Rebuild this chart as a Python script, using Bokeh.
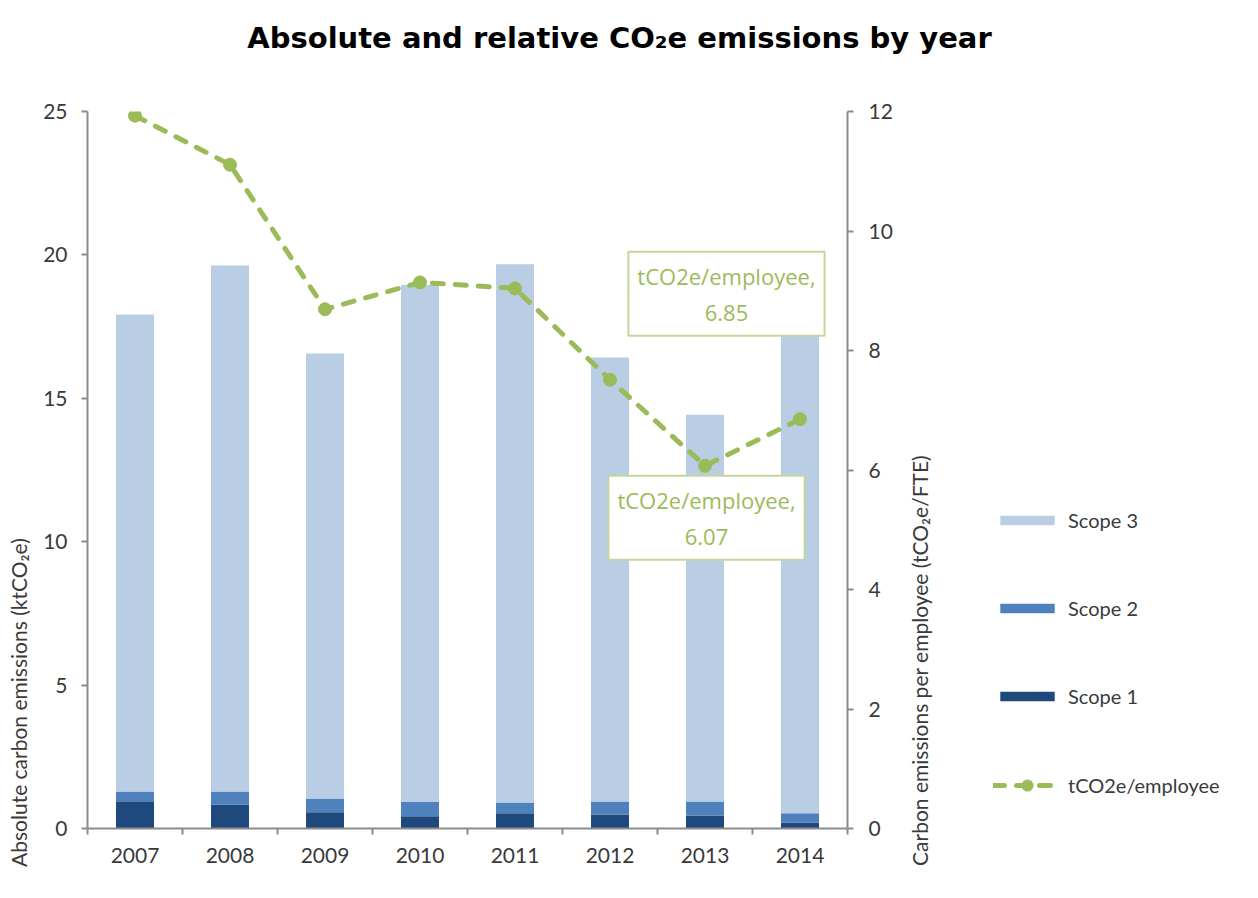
import math
from bokeh.plotting import figure
from bokeh.layouts import column, row
from bokeh.models import (ColumnDataSource, Range1d, LinearAxis, FixedTicker,
                          Legend, LegendItem, Label)
from bokeh.embed import file_html
from bokeh.resources import INLINE

# Emissions by year (ktCO2e) and intensity per employee (tCO2e/FTE)
years = ["2007", "2008", "2009", "2010", "2011", "2012", "2013", "2014"]
scope1 = [0.92, 0.83, 0.57, 0.43, 0.53, 0.49, 0.45, 0.21]
scope2 = [0.37, 0.46, 0.48, 0.49, 0.38, 0.45, 0.49, 0.32]
scope3 = [16.63, 18.34, 15.51, 18.03, 18.76, 15.48, 13.49, 17.04]
per_employee = [11.93, 11.11, 8.69, 9.14, 9.04, 7.51, 6.07, 6.85]

C_S1 = "#1F497D"
C_S2 = "#4F81BD"
C_S3 = "#B9CDE5"
C_LINE = "#9BBB59"
AXIS = "#8c8c8c"
TEXT = "#3a3a3a"
FONT = "Lato"

TITLE_H = 60
CHART_W = 940
LEGEND_W = 1258 - CHART_W
CHART_H = 898 - TITLE_H


def bare(fig):
    fig.outline_line_color = None
    fig.background_fill_color = "white"
    fig.border_fill_color = "white"
    return fig


# ---- title strip ----
t = bare(figure(width=1258, height=TITLE_H, x_range=Range1d(0, 1258),
                y_range=Range1d(0, TITLE_H), x_axis_type=None, y_axis_type=None,
                min_border=0, output_backend="svg", toolbar_location=None))
t.add_layout(Label(x=619, y=TITLE_H - 37, text="Absolute and relative CO₂e emissions by year",
                   text_font="DejaVu Sans", text_font_style="bold",
                   text_font_size="29px", text_color="black",
                   text_align="center", text_baseline="alphabetic"))

# ---- main chart ----
xs = list(range(len(years)))
src = ColumnDataSource(dict(x=xs, s1=scope1, s2=scope2, s3=scope3, emp=per_employee))

p = bare(figure(width=CHART_W, height=CHART_H, x_range=Range1d(-0.5, len(years) - 0.5),
                y_range=Range1d(0, 25), output_backend="svg", toolbar_location=None,
                min_border_left=87, min_border_right=CHART_W - 847,
                min_border_top=111 - TITLE_H, min_border_bottom=70))
p.extra_y_ranges = {"right": Range1d(0, 12)}
p.xgrid.visible = False
p.ygrid.visible = False

# stacked bars
bar_colors = [C_S1, C_S2, C_S3]
bars = p.vbar_stack(["s1", "s2", "s3"], x="x", width=0.4, source=src,
                    fill_color=bar_colors, line_color=None)

# intensity line on the secondary axis
line_style = dict(line_color=C_LINE, line_width=5, line_dash="11 12", line_cap="round")
dot_style = dict(size=13, fill_color=C_LINE, line_color=C_LINE)
p.line("x", "emp", source=src, y_range_name="right", **line_style)
p.scatter("x", "emp", source=src, y_range_name="right", **dot_style)

# x axis: year labels centred on bars, tick marks between categories
xa = p.xaxis[0]
xa.ticker = FixedTicker(ticks=xs, minor_ticks=[i - 0.5 for i in range(len(years) + 1)])
xa.major_label_overrides = {i: y for i, y in enumerate(years)}
xa.major_tick_in = 0
xa.major_tick_out = 0
xa.minor_tick_in = 0
xa.minor_tick_out = 6
xa.minor_tick_line_color = AXIS
xa.minor_tick_line_width = 2
xa.major_label_standoff = 13

ya = p.yaxis[0]
ya.ticker = FixedTicker(ticks=[0, 5, 10, 15, 20, 25])
ya.major_tick_in = 0
ya.major_tick_out = 6
ya.major_label_standoff = 14

ra = LinearAxis(y_range_name="right", ticker=FixedTicker(ticks=[0, 2, 4, 6, 8, 10, 12]))
ra.major_tick_in = 0
ra.major_tick_out = 6
ra.major_label_standoff = 15
p.add_layout(ra, "right")

for ax in (xa, ya, ra):
    ax.axis_line_color = AXIS
    ax.axis_line_width = 2
    ax.major_tick_line_color = AXIS
    ax.major_tick_line_width = 2
    ax.major_label_text_font = FONT
    ax.major_label_text_font_size = "21px"
    ax.major_label_text_color = TEXT
for ax in (ya, ra):
    ax.minor_tick_line_color = None

# axis titles, kept in the side panels so they are drawn outside the plot area
p.add_layout(Label(x=-1.226, y=4.39, text="Absolute carbon emissions (ktCO₂e)",
                   angle=math.pi / 2, text_font=FONT, text_font_size="21px",
                   text_color=TEXT, text_align="center", text_baseline="middle"), "left")
p.add_layout(Label(x=8.258, y=5.86, text="Carbon emissions per employee (tCO₂e/FTE)",
                   angle=math.pi / 2, text_font=FONT, text_font_size="21px",
                   text_color=TEXT, text_align="center", text_baseline="middle"), "right")

# value callouts for the last two years
callouts = [(7, -0.774, 2.1), (6, 0.016, -0.87)]
for idx, dx, dy in callouts:
    p.add_layout(Label(x=xs[idx] + dx, y=per_employee[idx] + dy, y_range_name="right",
                       text=f"tCO2e/employee,\n{per_employee[idx]:.2f}",
                       text_font="Open Sans", text_font_size="22px",
                       text_color=C_LINE, text_align="center", text_baseline="middle",
                       background_fill_color="white", border_line_color="#C3D69B",
                       border_line_width=2, padding=9))

# ---- legend panel ----
# key renderers share the chart's data but lie outside this panel's visible range,
# so only their legend swatches show
lg = bare(figure(width=LEGEND_W, height=CHART_H, x_range=Range1d(-3, -2),
                 y_range=Range1d(-3, -2), x_axis_type=None, y_axis_type=None,
                 min_border=0, output_backend="svg", toolbar_location=None))
bar_keys = []
for name, col, color in [("Scope 3", "s3", C_S3), ("Scope 2", "s2", C_S2), ("Scope 1", "s1", C_S1)]:
    r = lg.vbar(x="x", top=col, width=0.4, source=src, fill_color=color, line_color=None)
    bar_keys.append(LegendItem(label=name, renderers=[r]))
line_key = LegendItem(label="tCO2e/employee",
                      renderers=[lg.line("x", "emp", source=src, **line_style),
                                 lg.scatter("x", "emp", source=src, **dot_style)])

legend_style = dict(orientation="vertical", glyph_width=68, label_height=20,
                    padding=0, margin=0, border_line_color=None, background_fill_alpha=0,
                    label_text_font=FONT, label_text_font_size="20px",
                    label_text_color=TEXT, label_standoff=7)
lg.add_layout(Legend(items=bar_keys, location=(993 - CHART_W, 120),
                     glyph_height=12, spacing=64, **legend_style))
lg.add_layout(Legend(items=[line_key], location=(993 - CHART_W, 29),
                     glyph_height=28, **legend_style))

layout = column(t, row(p, lg, spacing=0), spacing=0)
open("out.html", "w").write(file_html(layout, INLINE))
